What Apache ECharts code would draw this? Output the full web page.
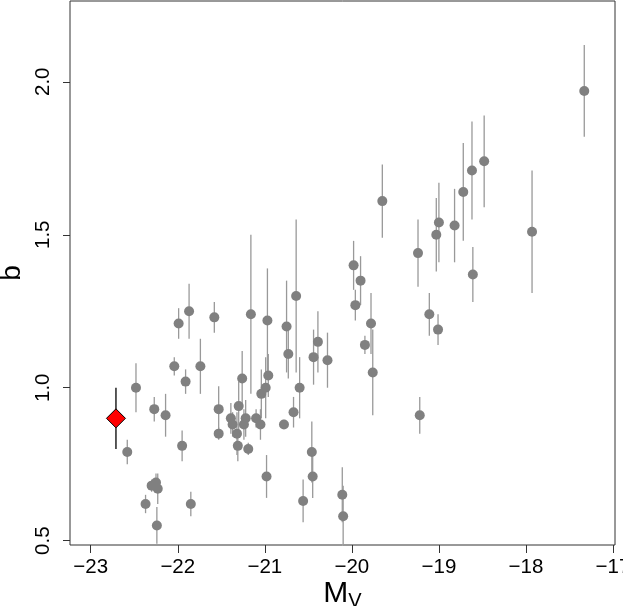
<!DOCTYPE html>
<html>
<head>
<meta charset="utf-8">
<script src="https://cdn.jsdelivr.net/npm/echarts@6/dist/echarts.min.js"></script>
<style>
  html, body { margin: 0; padding: 0; background: #fff; }
  #chart { width: 623px; height: 606px; }
</style>
</head>
<body>
<div id="chart"></div>
<script>
// absolute magnitude M_V of each galaxy
const mv = [
  -17.33, -18.48, -18.62, -18.72, -19.65, -19.00, -18.82, -17.93, -19.03, -19.24,
  -19.98, -18.61, -19.90, -20.64, -19.96, -21.87, -21.16, -19.11, -21.58, -20.97,
  -21.99, -19.78, -20.75, -19.01, -20.39, -19.85, -20.73, -20.44, -20.28, -22.04,
  -21.74, -19.76, -20.96, -21.26, -21.91, -22.48, -20.99, -20.60, -21.04, -21.30,
  -22.27, -21.53, -20.67, -22.14, -19.22, -21.39, -21.22, -21.10, -21.37, -21.24,
  -21.05, -20.78, -21.53, -21.32, -21.95, -21.31, -21.19, -22.58, -20.46, -20.98,
  -20.45, -22.30, -22.25, -22.23, -20.11, -20.56, -22.37, -21.85, -20.10, -22.24
];
// b parameter
const bVal = [
  1.97, 1.74, 1.71, 1.64, 1.61, 1.54, 1.53, 1.51, 1.50, 1.44,
  1.40, 1.37, 1.35, 1.30, 1.27, 1.25, 1.24, 1.24, 1.23, 1.22,
  1.21, 1.21, 1.20, 1.19, 1.15, 1.14, 1.11, 1.10, 1.09, 1.07,
  1.07, 1.05, 1.04, 1.03, 1.02, 1.00, 1.00, 1.00, 0.98, 0.94,
  0.93, 0.93, 0.92, 0.91, 0.91, 0.90, 0.90, 0.90, 0.88, 0.88,
  0.88, 0.88, 0.85, 0.85, 0.81, 0.81, 0.80, 0.79, 0.79, 0.71,
  0.71, 0.68, 0.69, 0.67, 0.65, 0.63, 0.62, 0.62, 0.58, 0.55
];
// error on b
const bErr = [
  0.15, 0.15, 0.16, 0.16, 0.12, 0.13, 0.12, 0.20, 0.12, 0.11,
  0.08, 0.09, 0.08, 0.25, 0.05, 0.09, 0.26, 0.07, 0.05, 0.17,
  0.05, 0.10, 0.15, 0.05, 0.10, 0.03, 0.08, 0.09, 0.09, 0.03,
  0.09, 0.14, 0.07, 0.09, 0.04, 0.08, 0.10, 0.10, 0.08, 0.08,
  0.04, 0.075, 0.05, 0.07, 0.06, 0.05, 0.06, 0.03, 0.04, 0.05,
  0.05, 0.015, 0.02, 0.07, 0.05, 0.05, 0.02, 0.04, 0.10, 0.07,
  0.07, 0.02, 0.03, 0.05, 0.09, 0.07, 0.03, 0.04, 0.10, 0.06
];
// highlighted object
const hiMv = [-22.71];
const hiB = [0.90];
const hiErr = [0.10];

const xTicks = [-23, -22, -21, -20, -19, -18, -17];
const yTicks = [0.5, 1.0, 1.5, 2.0];

const FONT = '"Liberation Sans", Arial, Helvetica, sans-serif';

function errBar(color) {
  return function (params, api) {
    const p1 = api.coord([api.value(0), api.value(1)]);
    const p2 = api.coord([api.value(0), api.value(2)]);
    return {
      type: 'line',
      shape: { x1: p1[0], y1: p1[1], x2: p2[0], y2: p2[1] },
      style: { stroke: color, lineWidth: 1.3 }
    };
  };
}

const chart = echarts.init(document.getElementById('chart'));
chart.setOption({
  animation: false,
  backgroundColor: '#fff',
  grid: {
    left: 70, right: 8, top: 1, bottom: 61,
    outerBoundsMode: 'none',
    containLabel: false,
    show: true, borderColor: '#333', borderWidth: 1, backgroundColor: 'transparent'
  },
  xAxis: {
    type: 'value',
    min: -23.238, max: -16.977,
    axisLine: { show: false },
    splitLine: { show: false },
    axisTick: { show: true, length: 8, customValues: xTicks, lineStyle: { color: '#333' } },
    axisLabel: {
      customValues: xTicks,
      margin: 12,
      fontSize: 20.5, color: '#000', fontFamily: FONT,
      formatter: v => String(v).replace('-', '\u2212')
    },
    name: '{m|M}{s|V}',
    nameLocation: 'middle',
    nameMoveOverlap: false,
    nameGap: 32,
    nameTextStyle: {
      rich: {
        m: { fontSize: 30, fontFamily: FONT, color: '#000' },
        s: { fontSize: 20, fontFamily: FONT, color: '#000', padding: [14, 0, 0, 0] }
      }
    }
  },
  yAxis: {
    type: 'value',
    min: 0.486, max: 2.264,
    axisLine: { show: false },
    splitLine: { show: false },
    axisTick: { show: true, length: 7, customValues: yTicks, lineStyle: { color: '#333' } },
    axisLabel: {
      customValues: yTicks,
      rotate: 90,
      margin: 16,
      fontSize: 20.5, color: '#000', fontFamily: FONT,
      formatter: v => v.toFixed(1)
    },
    name: 'b',
    nameLocation: 'middle',
    nameMoveOverlap: false,
    nameRotate: 90,
    nameGap: 44,
    nameTextStyle: { fontSize: 28, fontFamily: FONT, color: '#000' }
  },
  series: [
    {
      type: 'custom',
      clip: true,
      renderItem: errBar('#999'),
      encode: { x: 0, y: [1, 2] },
      data: mv.map((x, i) => [x, bVal[i] - bErr[i], bVal[i] + bErr[i]]),
      z: 1
    },
    {
      type: 'scatter',
      symbol: 'circle',
      symbolSize: 10,
      itemStyle: { color: '#808080', opacity: 1 },
      data: mv.map((x, i) => [x, bVal[i]]),
      z: 2
    },
    {
      type: 'custom',
      clip: true,
      renderItem: errBar('#000'),
      encode: { x: 0, y: [1, 2] },
      data: hiMv.map((x, i) => [x, hiB[i] - hiErr[i], hiB[i] + hiErr[i]]),
      z: 3
    },
    {
      type: 'scatter',
      symbol: 'diamond',
      symbolSize: [19, 19],
      itemStyle: { color: '#ff0000', borderColor: '#000', borderWidth: 1, opacity: 1 },
      data: hiMv.map((x, i) => [x, hiB[i]]),
      z: 4
    }
  ]
});
</script>
</body>
</html>
